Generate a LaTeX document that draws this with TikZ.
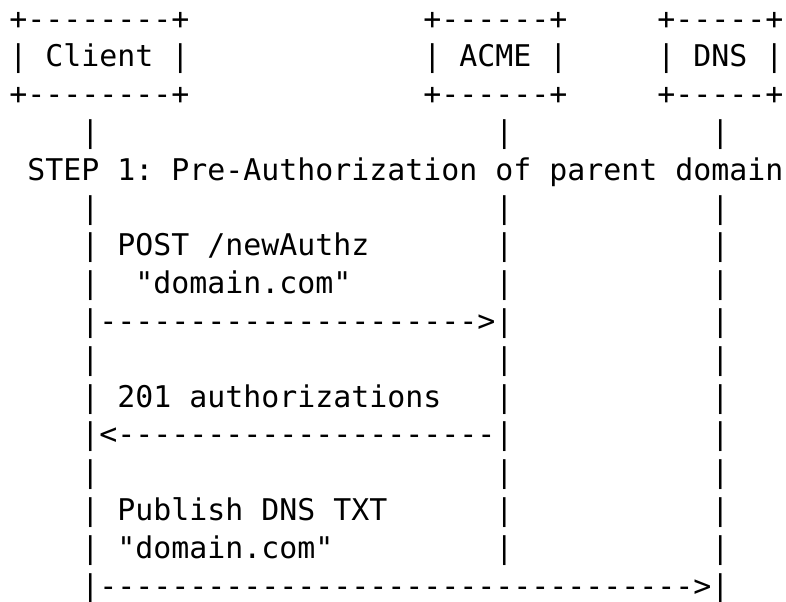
\documentclass[tikz,border=0pt]{standalone}
\usepackage{fontspec}
\setmonofont{DejaVu Sans Mono}
\usepackage{tikz}

\begin{document}
\begin{tikzpicture}[x=9pt,y=-18.9pt,
  ascii/.style={anchor=base west,inner sep=0pt,
    font=\ttfamily\fontsize{14.95pt}{18.9pt}\selectfont}]
  \path[fill=white,use as bounding box] (-0.5,-0.77) rectangle (43.17,15.15);

  % participants, one text row each
  \node[ascii] (clientT) at (0,0) {+--------+};
  \node[ascii] (client)  at (0,1) {|~Client~|};
  \node[ascii] (clientB) at (0,2) {+--------+};
  \node[ascii] (acmeT) at (23,0) {+------+};
  \node[ascii] (acme)  at (23,1) {|~ACME~|};
  \node[ascii] (acmeB) at (23,2) {+------+};
  \node[ascii] (dnsT) at (36,0) {+-----+};
  \node[ascii] (dns)  at (36,1) {|~DNS~|};
  \node[ascii] (dnsB) at (36,2) {+-----+};

  % lifelines (row 4 is the step banner)
  \foreach \c in {4,27,39}
    \foreach \r in {3,5,6,...,14}
      \node[ascii] (life-\c-\r) at (\c,\r) {|};
  \node[ascii] (life-4-15)  at (4,15)  {|};
  \node[ascii] (life-39-15) at (39,15) {|};

  \node[ascii] (step1) at (1,4) {STEP 1: Pre-Authorization of parent domain};

  % client -> acme
  \node[ascii] (newAuthz)    at (6,6) {POST /newAuthz};
  \node[ascii] (newAuthzArg) at (7,7) {"domain.com"};
  \node[ascii] (msg1) at (5,8) {--------------------->};
  % acme -> client
  \node[ascii] (authzResp) at (6,10) {201 authorizations};
  \node[ascii] (msg2) at (5,11) {<---------------------};
  % client -> dns
  \node[ascii] (publish)    at (6,13) {Publish DNS TXT};
  \node[ascii] (publishArg) at (6,14) {"domain.com"};
  \node[ascii] (msg3) at (5,15) {--------------------------------->};
\end{tikzpicture}
\end{document}
